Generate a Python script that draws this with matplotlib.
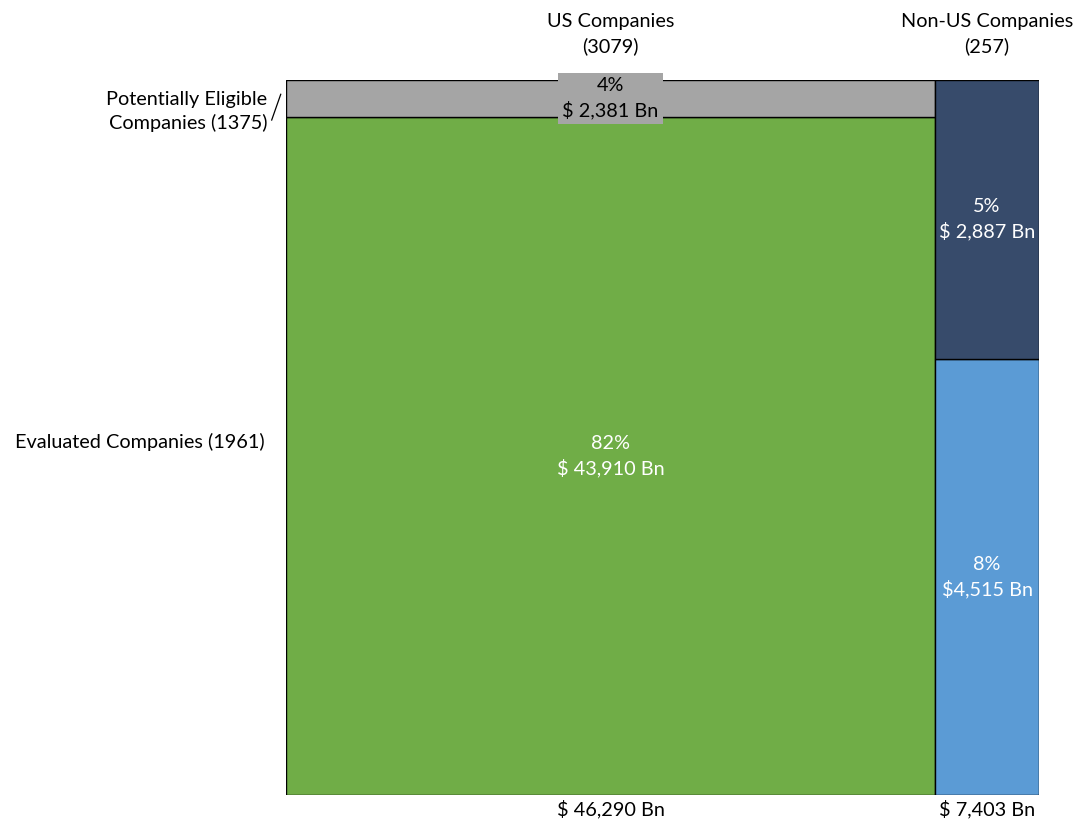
import matplotlib
matplotlib.use("Agg")
import matplotlib.pyplot as plt

plt.rcParams['font.family'] = ['Lato', 'DejaVu Sans']

columns = ["US Companies\n(3079)", "Non-US Companies\n(257)"]
column_totals = [46290, 7403]
evaluated = [43910, 4515]
eligible = [2381, 2887]
evaluated_labels = ["82%\n$ 43,910 Bn", "8%\n$4,515 Bn"]
eligible_labels = ["4%\n$ 2,381 Bn", "5%\n$ 2,887 Bn"]
bottom_labels = ["$ 46,290 Bn", "$ 7,403 Bn"]
row_labels = ["Evaluated Companies (1961)", "Potentially Eligible\nCompanies (1375)"]

eval_colors = ["#70AD47", "#5B9BD5"]
elig_colors = ["#A5A5A5", "#374B6B"]

FS = 14.3
LS = 1.45

fig = plt.figure(figsize=(10.76, 8.23), dpi=100)
ax = fig.add_axes([286 / 1076, 1 - 795 / 823, (1039 - 286) / 1076, (795 - 80) / 823])

total = sum(column_totals)
left = 0
for i in range(2):
    w = column_totals[i]
    h_eval = evaluated[i] / w
    h_elig = eligible[i] / w
    ax.bar(left, h_eval, width=w, bottom=0, align='edge', color=eval_colors[i],
           edgecolor='black', linewidth=1)
    ax.bar(left, h_elig, width=w, bottom=h_eval, align='edge', color=elig_colors[i],
           edgecolor='black', linewidth=1)
    cx = left + w / 2
    ax.text(cx, h_eval / 2, evaluated_labels[i], ha='center', va='center',
            color='white', fontsize=FS, linespacing=LS)
    if i == 0:
        # label box sticks out of the thin grey strip
        ax.text(cx, h_eval + h_elig / 2, eligible_labels[i], ha='center', va='center',
                color='black', fontsize=FS, linespacing=LS, clip_on=False,
                bbox=dict(facecolor=elig_colors[i], edgecolor='none', pad=3))
    else:
        ax.text(cx, h_eval + h_elig / 2, eligible_labels[i], ha='center', va='center',
                color='white', fontsize=FS, linespacing=LS)
    ax.text(cx, 1.064, columns[i], ha='center', va='center', fontsize=FS,
            linespacing=LS, transform=ax.get_xaxis_transform())
    ax.text(cx, -0.019, bottom_labels[i], ha='center', va='center', fontsize=FS,
            transform=ax.get_xaxis_transform())
    left += w

ax.set_xlim(0, total)
ax.set_ylim(0, 1)
ax.axis('off')

# row labels on the left
ax.text(-0.028, 0.494, row_labels[0], ha='right', va='center', fontsize=FS,
        transform=ax.transAxes)
ax.text(-0.025, 0.956, row_labels[1], ha='right', va='center', fontsize=FS,
        linespacing=LS, transform=ax.transAxes)
ax.plot([-0.019, -0.007], [0.944, 0.98], color='black', linewidth=0.9,
        transform=ax.transAxes, clip_on=False)

fig.savefig("out.png", dpi=100)
